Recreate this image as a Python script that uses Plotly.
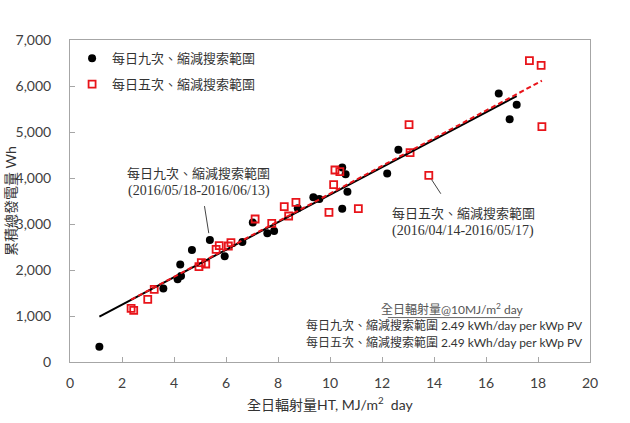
import numpy as np
import plotly.graph_objects as go

# ---- data ----
nine_x = [1.13, 3.59, 4.14, 4.27, 4.24, 4.69, 5.38, 5.95, 6.63, 7.03, 7.59, 7.85,
          8.76, 9.36, 9.59, 10.47, 10.60, 10.67, 10.47, 12.20, 12.63, 16.49, 17.18, 16.91]
nine_y = [330, 1600, 1800, 1870, 2120, 2435, 2650, 2300, 2610, 3030, 2800, 2850,
          3340, 3580, 3545, 4230, 4080, 3700, 3330, 4100, 4615, 5835, 5595, 5275]

five_x = [2.35, 2.45, 2.99, 3.24, 4.96, 5.05, 5.22, 5.62, 5.74, 6.09, 6.19, 7.12,
          7.76, 8.24, 8.41, 8.69, 9.96, 10.14, 10.19, 10.38, 11.09, 13.04, 13.08,
          13.80, 17.67, 18.12, 18.15]
five_y = [1167, 1124, 1363, 1580, 2072, 2159, 2130, 2449, 2529, 2522, 2594, 3109,
          3014, 3377, 3174, 3471, 3254, 3855, 4174, 4137, 3333, 5159, 4550,
          4058, 6551, 6449, 5116]

name_nine = "每日九次、縮減搜索範圍"
name_five = "每日五次、縮減搜索範圍"
period_nine = "(2016/05/18-2016/06/13)"
period_five = "(2016/04/14-2016/05/17)"
box_title = "全日輻射量@10MJ/m<sup>2</sup> day"
box_value = "2.49 kWh/day per kWp PV"
x_title = "全日輻射量HT, MJ/m<sup>2</sup>  day"
y_title = "累積總發電量 Wh"
x_ticks = list(range(0, 21, 2))
y_ticks = list(range(0, 7001, 1000))

CJK = "Liberation Serif, Noto Sans CJK TC"
SANS = "Lato, Noto Sans CJK TC"
TXT = "#333333"


def fit_line(xs, ys):
    k, b = np.polyfit(xs, ys, 1)
    lx = np.array([min(xs), max(xs)])
    return lx, k * lx + b


fig = go.Figure()
fig.add_trace(go.Scatter(x=nine_x, y=nine_y, mode="markers", name=name_nine,
                         legendgroup="a",
                         marker=dict(symbol="circle", size=8, color="black")))
fig.add_trace(go.Scatter(x=five_x, y=five_y, mode="markers", name=name_five,
                         legendgroup="b",
                         marker=dict(symbol="square-open", size=7, color="#e8141a",
                                     line=dict(width=1.8, color="#e8141a"))))
lx, ly = fit_line(nine_x, nine_y)
fig.add_trace(go.Scatter(x=lx, y=ly, mode="lines", showlegend=False,
                         line=dict(color="black", width=2)))
lx, ly = fit_line(five_x, five_y)
fig.add_trace(go.Scatter(x=lx, y=ly, mode="lines", showlegend=False,
                         line=dict(color="#e8141a", width=2, dash="5px,3px")))


def label(x, y, text, family, size, color=TXT, **kw):
    d = dict(xref="paper", yref="paper", x=x, y=y, text=text, showarrow=False,
             xanchor="center", yanchor="middle",
             font=dict(family=family, size=size, color=color))
    d.update(kw)
    return d


ann = [
    label(0.248, 0.584, name_nine, CJK, 13),
    label(0.248, 0.532, period_nine, "Liberation Serif", 14),
    label(0.756, 0.460, name_five, CJK, 13),
    label(0.756, 0.408, period_five, "Liberation Serif", 14),
    # summary box
    label(0.735, 0.165, box_title, SANS, 12, color="#555555"),
    label(0.721, 0.112, name_nine + " " + box_value, SANS, 12),
    label(0.721, 0.062, name_five + " " + box_value, SANS, 12),
    # axis titles
    label(0.5, -0.130, x_title, SANS, 14),
    label(-0.1154, 0.5, y_title, SANS, 14, textangle=-90),
]
# callout leader lines pointing at the data points
ann.append(dict(x=nine_x[6], y=nine_y[6], xref="x", yref="y", text=" ",
                showarrow=True, arrowhead=0, arrowwidth=1, arrowcolor="#444444",
                ax=-7, ay=-44, standoff=7))
ann.append(dict(x=five_x[23], y=five_y[23], xref="x", yref="y", text=" ",
                showarrow=True, arrowhead=0, arrowwidth=1, arrowcolor="#444444",
                ax=15, ay=23, standoff=5))
# underline of the summary-box heading
ann.append(dict(x=0.865, y=0.138, xref="paper", yref="paper", text=" ",
                showarrow=True, arrowhead=0, arrowwidth=1, arrowcolor="#666666",
                ax=-135, ay=0, standoff=0))

fig.update_layout(
    width=630, height=423,
    margin=dict(l=70, r=40, t=40, b=61),
    paper_bgcolor="white", plot_bgcolor="white",
    showlegend=True,
    legend=dict(x=0.004, y=0.99, xanchor="left", yanchor="top",
                bgcolor="rgba(0,0,0,0)", traceorder="grouped", tracegroupgap=6,
                itemwidth=30,
                font=dict(family=CJK, size=13, color=TXT)),
    annotations=ann,
)
fig.update_xaxes(range=[0, 20], tickvals=x_ticks, showgrid=False, zeroline=False,
                 showline=True, linecolor="#a6a6a6", linewidth=1, mirror=True,
                 ticks="inside", ticklen=5, tickcolor="#a6a6a6",
                 ticklabelstandoff=8,
                 tickfont=dict(family="Lato", size=14, color="#404040"))
fig.update_yaxes(range=[0, 7000], tickvals=y_ticks, tickformat=",d",
                 showgrid=False, zeroline=False,
                 showline=True, linecolor="#a6a6a6", linewidth=1, mirror=True,
                 ticks="inside", ticklen=5, tickcolor="#a6a6a6",
                 ticklabelstandoff=15,
                 tickfont=dict(family="Lato", size=14, color="#404040"))

fig.write_html("out.html")
